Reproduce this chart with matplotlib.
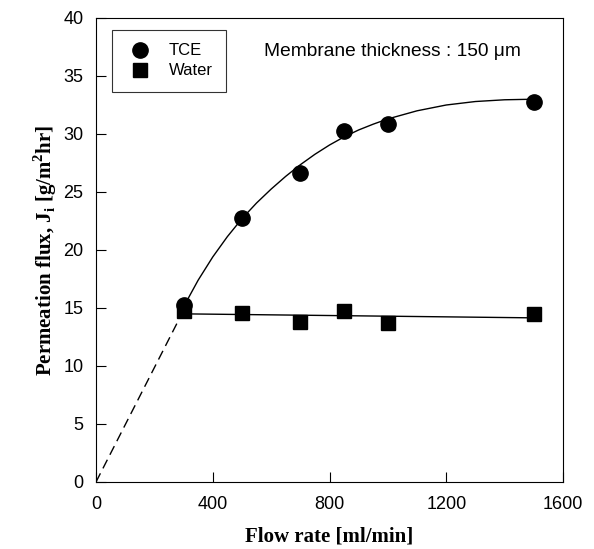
import matplotlib.pyplot as plt
import numpy as np

# measured points
flow = [300, 500, 700, 850, 1000, 1500]
tce = [15.3, 22.8, 26.6, 30.3, 30.9, 32.8]
water = [14.7, 14.6, 13.8, 14.7, 13.7, 14.5]

# fitted curves
fit_x = [290, 300, 350, 400, 450, 500, 550, 600, 650, 700, 750, 800, 850,
         900, 950, 1000, 1100, 1200, 1300, 1400, 1500]
fit_tce = [14.6, 15.1, 17.4, 19.4, 21.15, 22.7, 24.05, 25.25, 26.35, 27.35, 28.25,
           29.05, 29.75, 30.35, 30.85, 31.3, 32.0, 32.5, 32.8, 32.95, 33.0]
water_x = [285, 1500]
water_fit = [14.5, 14.15]
dash_x = [0, 290]
dash_y = [0, 14.3]

plt.rcParams['font.family'] = ['Liberation Sans', 'DejaVu Sans']
fig = plt.figure(figsize=(5.94, 5.49), dpi=100)
ax = fig.add_axes([96 / 594, 67 / 549, 467 / 594, 464 / 549])

ax.plot(fit_x, fit_tce, color='black', lw=1.0)
ax.plot(water_x, water_fit, color='black', lw=1.0)
ax.plot(dash_x, dash_y, color='black', lw=1.0, dashes=(7, 4))
ax.plot(flow, tce, 'o', color='black', ms=11, label='TCE')
ax.plot(flow, water, 's', color='black', ms=9.5, label='Water')

ax.set_xlim(0, 1600)
ax.set_ylim(0, 40)
ax.set_xticks(np.arange(0, 1601, 400))
ax.set_yticks(np.arange(0, 41, 5))
ax.tick_params(direction='in', length=7, labelsize=13)
ax.tick_params(axis='x', pad=10)
ax.tick_params(axis='y', pad=9)

serif = {'family': 'Liberation Serif', 'weight': 'bold', 'size': 15}
ax.set_xlabel('Flow rate [ml/min]', fontdict=serif, labelpad=10)
ax.set_ylabel(r'Permeation flux, J$_\mathregular{i}$ [g/m$^\mathregular{2}$hr]', fontdict=serif, labelpad=3)

leg = ax.legend(loc='upper left', bbox_to_anchor=(0.034, 0.974), borderaxespad=0,
                fontsize=12, fancybox=False, edgecolor='black', handletextpad=0.8,
                borderpad=0.8, labelspacing=0.3, handlelength=1.8)
leg.get_frame().set_linewidth(0.8)

ax.text(0.91, 0.928, 'Membrane thickness : 150 \u03bcm', transform=ax.transAxes,
        ha='right', va='center', fontsize=13.8)

fig.savefig('out.png', dpi=100)
